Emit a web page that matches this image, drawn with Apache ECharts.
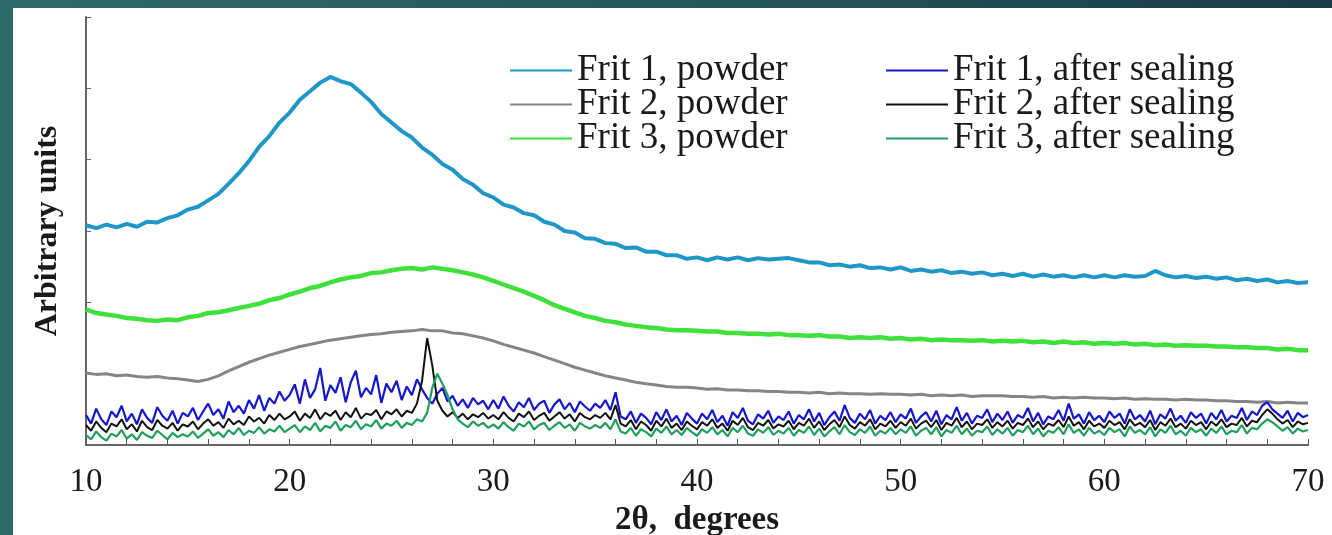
<!DOCTYPE html>
<html>
<head>
<meta charset="utf-8">
<title>XRD frits</title>
<script src="https://cdn.jsdelivr.net/npm/echarts@6/dist/echarts.min.js"></script>
<style>
  html, body { margin: 0; padding: 0; background: #fff; }
  .wrap { position: relative; width: 1332px; height: 535px; overflow: hidden; }
  #main { position: absolute; left: 0; top: 0; width: 1332px; height: 535px; }
  .band-top { position: absolute; left: 0; top: 0; width: 1332px; height: 8px;
    background: linear-gradient(to right, #2f6b66, #24545a 60%, #183a48); }
  .band-left { position: absolute; left: 0; top: 0; width: 13px; height: 535px; background: #2f6b66; }
</style>
</head>
<body>
<div class="wrap">
  <div id="main"></div>
  <div class="band-top"></div>
  <div class="band-left"></div>
</div>
<script>
// 2theta scan grids: 0.5 deg for the powder curves, 0.25 deg for the noisy sealed ones
const twoTheta = Array.from({ length: 121 }, (_, i) => 10 + i * 0.5);
const twoThetaFine = Array.from({ length: 241 }, (_, i) => 10 + i * 0.25);

// intensities (arbitrary units)
const frit1Powder = [
  308, 304, 309, 305, 310, 306, 313, 312, 318, 322,
  330, 334, 343, 352, 366, 381, 398, 418, 433, 452,
  466, 484, 496, 508, 516, 510, 506, 494, 481, 464,
  452, 440, 431, 417, 407, 394, 386, 373, 365, 353,
  347, 337, 333, 325, 322, 313, 309, 300, 298, 290,
  289, 283, 282, 276, 277, 271, 271, 266, 266, 261,
  263, 259, 263, 260, 263, 259, 262, 260, 261, 262,
  259, 256, 256, 252, 253, 250, 252, 248, 249, 246,
  249, 244, 246, 243, 245, 241, 243, 240, 242, 238,
  240, 237, 240, 236, 239, 236, 238, 235, 238, 235,
  238, 235, 238, 236, 237, 244, 238, 235, 237, 234,
  236, 233, 235, 231, 233, 230, 232, 228, 230, 227,
  228
];
const frit2Powder = [
  101, 99, 100, 97, 98, 96, 95, 96, 94, 93,
  91, 89, 92, 97, 104, 110, 116, 121, 126, 130,
  134, 138, 141, 144, 147, 149, 151, 153, 155, 156,
  158, 159, 160, 162, 160, 160, 157, 156, 153, 150,
  146, 141, 137, 133, 129, 124, 119, 114, 109, 105,
  101, 97, 94, 91, 88, 86, 84, 82, 81, 81,
  80, 78, 79, 77, 77, 76, 76, 75, 75, 74,
  74, 73, 74, 72, 73, 72, 72, 71, 72, 71,
  71, 70, 71, 69, 70, 69, 70, 68, 69, 69,
  69, 68, 68, 67, 68, 66, 67, 66, 67, 66,
  66, 65, 66, 64, 65, 64, 64, 63, 64, 63,
  63, 62, 62, 61, 61, 60, 61, 59, 60, 59,
  59
];
const frit3Powder = [
  190, 185, 183, 181, 178, 177, 175, 174, 176, 175,
  179, 181, 185, 186, 189, 192, 195, 198, 203, 206,
  211, 215, 220, 223, 228, 232, 235, 237, 241, 242,
  245, 247, 248, 246, 249, 247, 245, 242, 239, 235,
  230, 225, 220, 215, 209, 203, 196, 191, 186, 181,
  178, 174, 172, 169, 167, 165, 164, 162, 161, 161,
  160, 159, 159, 157, 157, 156, 156, 155, 156, 154,
  154, 153, 154, 152, 152, 150, 151, 150, 151, 149,
  150, 148, 149, 147, 148, 147, 147, 146, 147, 145,
  146, 145, 146, 144, 145, 143, 145, 143, 144, 142,
  143, 142, 143, 141, 142, 140, 141, 139, 140, 139,
  139, 138, 138, 137, 137, 136, 136, 134, 135, 133,
  133
];
const frit1Sealed = [
  42, 30, 51, 36, 28, 47, 39, 55, 33, 44, 29, 50, 38, 31, 53, 41, 34, 48, 30, 45,
  40, 52, 35, 47, 58, 42, 50, 37, 61, 46, 55, 44, 63, 51, 70, 48, 66, 58, 75, 62,
  70, 85, 58, 92, 66, 78, 108, 62, 84, 73, 95, 60, 88, 104, 67, 80, 71, 98, 59, 86,
  74, 90, 63, 82, 70, 92, 78, 66, 58, 72, 80, 61, 69, 55, 64, 52, 66, 57, 62, 50,
  63, 51, 68, 55, 47, 60, 53, 66, 49, 58, 62, 45, 57, 64, 50, 59, 46, 61, 54, 48,
  58, 52, 63, 49, 74, 40, 36, 47, 31, 44, 38, 29, 46, 35, 50, 33, 41, 28, 45, 37,
  30, 44, 36, 49, 32, 41, 27, 46, 38, 52, 34, 29, 43, 37, 48, 31, 40, 35, 47, 30,
  42, 36, 50, 33, 45, 28, 39, 47, 34, 56, 38, 31, 44, 36, 49, 30, 41, 35, 46, 32,
  43, 37, 51, 31, 40, 46, 33, 48, 29, 42, 36, 53, 34, 45, 30, 41, 38, 50, 32, 44,
  35, 47, 31, 42, 38, 52, 33, 45, 29, 40, 36, 49, 34, 58, 37, 43, 30, 46, 35, 41,
  32, 47, 38, 44, 30, 50, 36, 42, 33, 48, 29, 43, 37, 51, 34, 41, 31, 46, 38, 44,
  30, 45, 36, 49, 33, 41, 38, 52, 35, 47, 42, 55, 60, 50, 44, 38, 48, 33, 45, 39,
  42
];
const frit2Sealed = [
  28, 20, 33, 24, 18, 30, 26, 36, 22, 29, 19, 34, 25, 21, 35, 27, 23, 31, 20, 29,
  26, 33, 22, 30, 36, 27, 32, 24, 37, 29, 34, 28, 40, 33, 38, 30, 42, 35, 44, 36,
  40, 47, 34, 44, 38, 50, 36, 45, 41, 48, 35, 46, 39, 52, 37, 44, 42, 49, 36, 47,
  43, 50, 40, 48, 45, 58, 90, 150, 112, 62, 48, 40, 46, 38, 44, 36, 43, 39, 45, 37,
  42, 36, 46, 38, 33, 44, 39, 47, 35, 41, 45, 34, 40, 46, 37, 43, 33, 45, 39, 36,
  42, 38, 45, 36, 56, 30, 26, 35, 22, 33, 28, 20, 34, 26, 37, 24, 30, 21, 33, 27,
  22, 32, 27, 36, 24, 30, 20, 34, 28, 38, 25, 21, 31, 27, 35, 23, 29, 26, 34, 22,
  31, 27, 37, 24, 33, 21, 29, 35, 25, 40, 28, 23, 32, 27, 36, 22, 30, 26, 34, 24,
  32, 27, 37, 23, 30, 34, 25, 35, 21, 31, 27, 38, 25, 33, 22, 30, 28, 36, 24, 32,
  26, 34, 23, 31, 28, 37, 25, 33, 22, 30, 27, 35, 25, 40, 27, 32, 22, 34, 26, 30,
  24, 34, 28, 32, 22, 36, 27, 31, 25, 35, 21, 32, 27, 37, 25, 30, 23, 34, 28, 32,
  22, 33, 27, 36, 25, 30, 28, 38, 26, 34, 32, 42, 50, 44, 36, 30, 35, 25, 33, 29,
  31
];
const frit3Sealed = [
  14, 8, 19, 11, 6, 16, 12, 21, 9, 15, 7, 18, 13, 10, 20, 14, 8, 17, 11, 15,
  12, 19, 10, 16, 22, 13, 18, 11, 21, 15, 24, 14, 20, 17, 25, 16, 22, 19, 27, 18,
  23, 28, 18, 26, 21, 31, 19, 27, 24, 33, 20, 28, 25, 34, 22, 29, 26, 35, 23, 30,
  27, 34, 24, 31, 28, 36, 33, 45, 80, 100, 86, 70, 50, 36, 30, 25, 33, 27, 31, 24,
  29, 23, 32, 25, 20, 30, 26, 33, 22, 28, 31, 21, 27, 32, 24, 29, 20, 31, 26, 23,
  28, 24, 31, 22, 36, 19, 16, 24, 13, 22, 18, 12, 23, 17, 26, 15, 21, 14, 24, 18,
  13, 22, 17, 25, 15, 21, 12, 24, 18, 27, 16, 13, 22, 17, 25, 14, 20, 16, 24, 13,
  21, 17, 26, 14, 23, 12, 19, 25, 15, 28, 18, 14, 22, 17, 26, 13, 20, 16, 24, 15,
  22, 17, 26, 13, 20, 24, 15, 25, 12, 21, 17, 27, 15, 23, 13, 20, 18, 26, 14, 22,
  16, 24, 13, 21, 18, 27, 15, 23, 12, 20, 17, 25, 15, 29, 17, 22, 13, 24, 16, 20,
  14, 24, 18, 22, 12, 26, 17, 21, 15, 25, 12, 22, 17, 27, 15, 20, 13, 24, 18, 22,
  13, 23, 17, 26, 15, 20, 18, 28, 16, 24, 22, 30, 36, 32, 26, 20, 25, 16, 23, 19,
  21
];

const powderNames = ['Frit 1, powder', 'Frit 2, powder', 'Frit 3, powder'];
const sealedNames = ['Frit 1, after sealing', 'Frit 2, after sealing', 'Frit 3, after sealing'];

const serif = '"Liberation Serif", "Times New Roman", serif';

function pairs(xs, values) {
  return values.map((v, i) => [xs[i], v]);
}

function line(name, xs, values, color, width) {
  return {
    name: name,
    type: 'line',
    data: pairs(xs, values),
    showSymbol: false,
    symbol: 'none',
    lineStyle: { color: color, width: width },
    itemStyle: { color: color },
    emphasis: { disabled: true }
  };
}

const chart = echarts.init(document.getElementById('main'));

const legendBase = {
  orient: 'vertical',
  icon: 'rect',
  itemWidth: 62,
  itemHeight: 2,
  itemGap: -3,
  padding: 0,
  selectedMode: false,
  textStyle: { fontFamily: serif, fontSize: 37, lineHeight: 32, color: '#1a1a1a' }
};

chart.setOption({
  animation: false,
  backgroundColor: '#fff',
  grid: { left: 86, right: 24, top: 17, bottom: 90, outerBoundsMode: 'none' },
  legend: [
    Object.assign({}, legendBase, { left: 510, top: 52, data: powderNames }),
    Object.assign({}, legendBase, { left: 886, top: 52, data: sealedNames })
  ],
  xAxis: {
    type: 'value',
    min: 10,
    max: 70,
    interval: 2,
    name: '2θ,  degrees',
    nameLocation: 'middle',
    nameGap: 57,
    nameTextStyle: { fontFamily: serif, fontSize: 33, fontWeight: 'bold', color: '#1a1a1a' },
    axisLine: { lineStyle: { color: '#666', width: 2 } },
    axisTick: { inside: true, length: 6, lineStyle: { color: '#555' } },
    axisLabel: {
      margin: 21,
      fontFamily: serif,
      fontSize: 33,
      color: '#1a1a1a',
      formatter: v => (v % 10 === 0 ? String(v) : '')
    },
    splitLine: { show: false }
  },
  yAxis: {
    type: 'value',
    min: 0,
    max: 600,
    interval: 100,
    name: 'Arbitrary units',
    nameLocation: 'middle',
    nameGap: 22,
    nameTextStyle: { fontFamily: serif, fontSize: 32, fontWeight: 'bold', color: '#1a1a1a' },
    axisLine: { show: true, lineStyle: { color: '#666', width: 2 } },
    axisTick: { show: true, inside: true, length: 5, lineStyle: { color: '#666' } },
    axisLabel: { show: false },
    splitLine: { show: false }
  },
  series: [
    line('Frit 1, powder', twoTheta, frit1Powder, '#1f97c6', 4),
    line('Frit 2, powder', twoTheta, frit2Powder, '#858585', 3),
    line('Frit 3, powder', twoTheta, frit3Powder, '#3ee03a', 4.5),
    line('Frit 1, after sealing', twoThetaFine, frit1Sealed, '#1616cc', 2.2),
    line('Frit 2, after sealing', twoThetaFine, frit2Sealed, '#111111', 2),
    line('Frit 3, after sealing', twoThetaFine, frit3Sealed, '#1f9e5c', 2.2)
  ]
});
</script>
</body>
</html>
